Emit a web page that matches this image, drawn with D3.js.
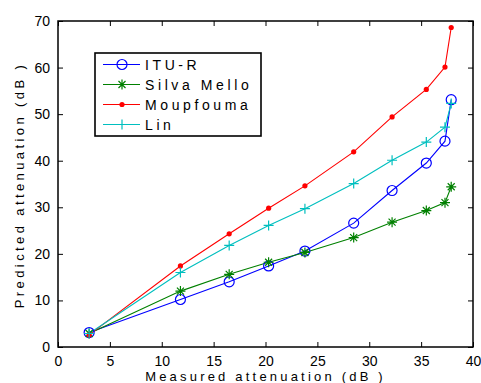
<!DOCTYPE html>
<html lang="en">
<head>
<meta charset="utf-8">
<title>Predicted vs measured attenuation</title>
<script src="https://d3js.org/d3.v7.min.js"></script>
<style>
  body { margin: 0; background: #fff; }
  text { font-family: "Liberation Sans", Arial, sans-serif; fill: #000; }
</style>
</head>
<body>
<svg id="chart" width="481" height="383"></svg>
<script>
// measured attenuation (dB), shared by all series
var measured = [3, 11.8, 16.5, 20.3, 23.8, 28.5, 32.2, 35.5, 37.3, 37.9];
var ituR       = [3.1, 10.2, 14.0, 17.4, 20.6, 26.6, 33.6, 39.5, 44.2, 53.1];
var silvaMello = [2.9, 12.0, 15.6, 18.2, 20.3, 23.5, 26.8, 29.3, 31.0, 34.4];
var moupfouma  = [2.6, 17.4, 24.3, 29.8, 34.6, 41.9, 49.4, 55.3, 60.1, 68.6];
var lin        = [2.9, 16.0, 21.8, 26.1, 29.7, 35.1, 40.1, 44.0, 47.2, 52.3];
var seriesNames = ["ITU-R", "Silva Mello", "Moupfouma", "Lin"];
var xTicks = [0, 5, 10, 15, 20, 25, 30, 35, 40];
var yTicks = [0, 10, 20, 30, 40, 50, 60, 70];

var series = [
  {name: seriesNames[0], values: ituR, color: "#0000ff", marker: "circle"},
  {name: seriesNames[1], values: silvaMello, color: "#008000", marker: "star"},
  {name: seriesNames[2], values: moupfouma, color: "#ff0000", marker: "dot"},
  {name: seriesNames[3], values: lin, color: "#00bfbf", marker: "plus"}
];

var svg = d3.select("#chart"),
    margin = {top: 21, right: 8, bottom: 36, left: 58},
    width = 481 - margin.left - margin.right,
    height = 383 - margin.top - margin.bottom;

var x = d3.scaleLinear().domain([0, 40]).range([0, width]);
var y = d3.scaleLinear().domain([0, 70]).range([height, 0]);

var g = svg.append("g")
    .attr("transform", "translate(" + margin.left + "," + margin.top + ")");

// inward ticks on all four sides
function styleAxis(sel) {
  sel.select(".domain").remove();
  sel.selectAll("line").attr("stroke", "#000").attr("stroke-width", 1);
  sel.selectAll("text").style("font-size", "14px").style("font-family", "Liberation Sans, Arial, sans-serif");
}
g.append("g").attr("transform", "translate(0," + height + ")")
  .call(d3.axisBottom(x).tickValues(xTicks).tickSizeInner(-5).tickPadding(9)).call(styleAxis);
g.append("g")
  .call(d3.axisTop(x).tickValues(xTicks).tickSizeInner(-5).tickFormat("")).call(styleAxis);
g.append("g")
  .call(d3.axisLeft(y).tickValues(yTicks).tickSizeInner(-5).tickPadding(8)).call(styleAxis);
g.append("g").attr("transform", "translate(" + width + ",0)")
  .call(d3.axisRight(y).tickValues(yTicks).tickSizeInner(-5).tickFormat("")).call(styleAxis);

g.append("rect")
  .attr("width", width).attr("height", height)
  .attr("fill", "none").attr("stroke", "#000").attr("stroke-width", 1.5);

function drawMarker(sel, s) {
  if (s.marker === "circle") {
    sel.append("circle").attr("r", 5).attr("fill", "none").attr("stroke", s.color).attr("stroke-width", 1.2);
  } else if (s.marker === "dot") {
    sel.append("circle").attr("r", 2.6).attr("fill", s.color);
  } else if (s.marker === "plus") {
    sel.append("path").attr("d", "M-5,0H5M0,-5V5").attr("stroke", s.color).attr("stroke-width", 1.2);
  } else {
    sel.append("path").attr("d", "M-5,0H5M0,-5V5M-3.5,-3.5L3.5,3.5M-3.5,3.5L3.5,-3.5")
      .attr("stroke", s.color).attr("stroke-width", 1.2);
  }
}

var line = d3.line()
  .x(function(d, i) { return x(measured[i]); })
  .y(function(d) { return y(d); });

series.forEach(function(s) {
  g.append("path").datum(s.values)
    .attr("d", line).attr("fill", "none").attr("stroke", s.color).attr("stroke-width", 1.1);
});
series.forEach(function(s) {
  g.selectAll(null).data(s.values).enter().append("g")
    .attr("transform", function(d, i) { return "translate(" + x(measured[i]) + "," + y(d) + ")"; })
    .each(function() { drawMarker(d3.select(this), s); });
});

// axis labels
svg.append("text")
  .attr("x", margin.left + width / 2).attr("y", 381)
  .attr("text-anchor", "middle").style("font-size", "13px").style("letter-spacing", "3.2px")
  .text("Measured attenuation (dB )");
svg.append("text")
  .attr("transform", "translate(24," + (margin.top + 164) + ") rotate(-90)")
  .attr("text-anchor", "middle").style("font-size", "13px").style("letter-spacing", "3.4px")
  .text("Predicted attenuation (dB )");

// legend
var legend = svg.append("g").attr("transform", "translate(95,53)");
legend.append("rect").attr("width", 166).attr("height", 83)
  .attr("fill", "#fff").attr("stroke", "#000").attr("stroke-width", 1.6);
series.forEach(function(s, i) {
  var row = legend.append("g").attr("transform", "translate(0," + (11.5 + i * 20) + ")");
  row.append("line").attr("x1", 8).attr("x2", 45).attr("stroke", s.color).attr("stroke-width", 1.1);
  drawMarker(row.append("g").attr("transform", "translate(27,0)"), s);
  row.append("text").attr("x", 50).attr("dy", "0.36em")
    .style("font-size", "14px").style("letter-spacing", "3.6px").text(s.name);
});
</script>
</body>
</html>
